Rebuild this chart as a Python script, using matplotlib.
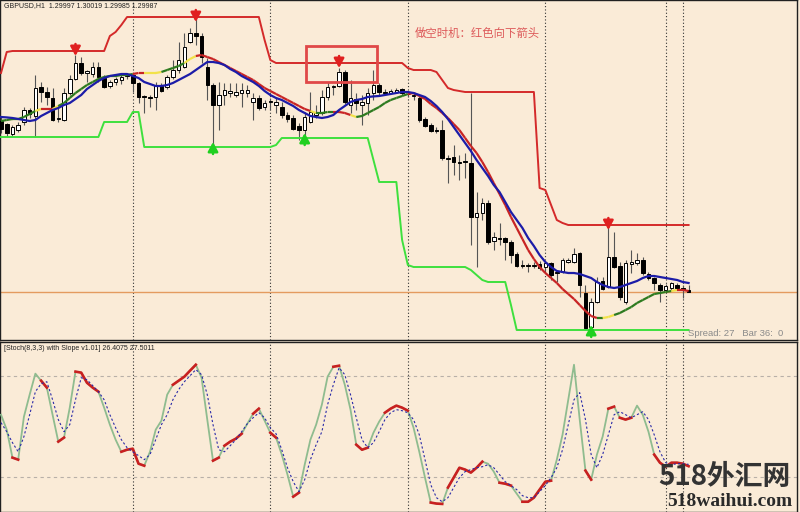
import numpy as np
import matplotlib.pyplot as plt
from matplotlib.collections import LineCollection
from matplotlib.patches import Rectangle

# GBPUSD H1, 121 bars, oldest -> newest
opens = [1.30840, 1.30825, 1.30775, 1.30795, 1.30835, 1.30895, 1.30865, 1.31010, 1.30985, 1.30955,
         1.30850, 1.30845, 1.30980, 1.31050, 1.31130, 1.31080, 1.31075, 1.31110, 1.31055, 1.31015,
         1.31035, 1.31045, 1.31065, 1.31070, 1.31030, 1.30965, 1.30960, 1.30960, 1.31015, 1.31010,
         1.31060, 1.31095, 1.31110, 1.31235, 1.31280, 1.31265, 1.31110, 1.31020, 1.30920, 1.30970,
         1.30980, 1.30970, 1.30980, 1.30980, 1.30935, 1.30955, 1.30910, 1.30935, 1.30920, 1.30910,
         1.30870, 1.30855, 1.30815, 1.30795, 1.30835, 1.30870, 1.30880, 1.30960, 1.31010, 1.31015,
         1.31085, 1.30920, 1.30950, 1.30920, 1.30930, 1.30980, 1.31020, 1.30985, 1.30980, 1.30985,
         1.31000, 1.30975, 1.30965, 1.30955, 1.30850, 1.30820, 1.30795, 1.30795, 1.30655, 1.30660,
         1.30635, 1.30640, 1.30630, 1.30360, 1.30380, 1.30430, 1.30240, 1.30255, 1.30255, 1.30235,
         1.30175, 1.30120, 1.30120, 1.30115, 1.30125, 1.30110, 1.30130, 1.30080, 1.30085, 1.30135,
         1.30135, 1.30180, 1.29980, 1.29810, 1.29935, 1.30040, 1.30010, 1.30160, 1.30115, 1.29935,
         1.30125, 1.30130, 1.30145, 1.30075, 1.30055, 1.30020, 1.29995, 1.30005, 1.30020, 1.30005,
         1.29997]
highs = [1.30860, 1.30830, 1.30820, 1.30835, 1.30910, 1.30905, 1.31070, 1.31035, 1.31010, 1.31005,
         1.30920, 1.31005, 1.31070, 1.31170, 1.31160, 1.31095, 1.31135, 1.31135, 1.31070, 1.31045,
         1.31060, 1.31070, 1.31080, 1.31080, 1.31035, 1.30970, 1.30970, 1.31035, 1.31030, 1.31070,
         1.31145, 1.31235, 1.31280, 1.31305, 1.31355, 1.31280, 1.31155, 1.31030, 1.31035, 1.31030,
         1.31030, 1.31030, 1.31030, 1.31020, 1.30980, 1.30970, 1.30945, 1.30955, 1.30960, 1.30935,
         1.30885, 1.30870, 1.30830, 1.30885, 1.30985, 1.30920, 1.30995, 1.31035, 1.31020, 1.31105,
         1.31095, 1.31045, 1.30980, 1.30970, 1.31005, 1.31095, 1.31030, 1.31000, 1.31000, 1.31005,
         1.31005, 1.30985, 1.30980, 1.30965, 1.30860, 1.30830, 1.30810, 1.30845, 1.30670, 1.30720,
         1.30670, 1.30680, 1.30980, 1.30485, 1.30455, 1.30445, 1.30285, 1.30330, 1.30260, 1.30245,
         1.30185, 1.30145, 1.30130, 1.30135, 1.30140, 1.30135, 1.30135, 1.30095, 1.30155, 1.30155,
         1.30205, 1.30185, 1.30020, 1.29955, 1.30060, 1.30060, 1.30310, 1.30285, 1.30135, 1.30145,
         1.30195, 1.30180, 1.30160, 1.30085, 1.30060, 1.30030, 1.30025, 1.30035, 1.30030, 1.30020,
         1.30019]
lows = [1.30780, 1.30760, 1.30760, 1.30785, 1.30820, 1.30855, 1.30760, 1.30935, 1.30920, 1.30840,
        1.30835, 1.30840, 1.30970, 1.31045, 1.31070, 1.31035, 1.31060, 1.31035, 1.31005, 1.31005,
        1.31020, 1.31025, 1.31050, 1.30985, 1.30930, 1.30880, 1.30910, 1.30895, 1.30985, 1.31000,
        1.31050, 1.31080, 1.31105, 1.31230, 1.31220, 1.31130, 1.30945, 1.30720, 1.30795, 1.30920,
        1.30960, 1.30960, 1.30910, 1.30960, 1.30845, 1.30895, 1.30895, 1.30895, 1.30880, 1.30855,
        1.30835, 1.30795, 1.30745, 1.30755, 1.30830, 1.30855, 1.30870, 1.30945, 1.30970, 1.31010,
        1.30925, 1.30880, 1.30895, 1.30820, 1.30870, 1.30945, 1.30965, 1.30970, 1.30975, 1.30980,
        1.30970, 1.30960, 1.30945, 1.30835, 1.30810, 1.30785, 1.30780, 1.30645, 1.30530, 1.30570,
        1.30545, 1.30555, 1.30220, 1.30110, 1.30345, 1.30225, 1.30195, 1.30220, 1.30145, 1.30130,
        1.30110, 1.30105, 1.30085, 1.30105, 1.30095, 1.30080, 1.30045, 1.30035, 1.30080, 1.30130,
        1.30130, 1.29960, 1.29795, 1.29805, 1.29930, 1.29995, 1.30005, 1.30105, 1.29945, 1.29925,
        1.30080, 1.30120, 1.30070, 1.30045, 1.29995, 1.29935, 1.29980, 1.29995, 1.29995, 1.29955,
        1.29985]
closes = [1.30800, 1.30780, 1.30810, 1.30820, 1.30895, 1.30875, 1.31005, 1.30985, 1.30960, 1.30845,
          1.30855, 1.30980, 1.31050, 1.31130, 1.31080, 1.31090, 1.31110, 1.31060, 1.31010, 1.31035,
          1.31050, 1.31060, 1.31070, 1.31030, 1.30960, 1.30960, 1.30955, 1.31020, 1.30990, 1.31060,
          1.31095, 1.31145, 1.31210, 1.31280, 1.31265, 1.31160, 1.31020, 1.30920, 1.30970, 1.30995,
          1.30990, 1.30985, 1.30995, 1.30995, 1.30955, 1.30905, 1.30930, 1.30940, 1.30935, 1.30870,
          1.30850, 1.30800, 1.30795, 1.30860, 1.30885, 1.30880, 1.30960, 1.31010, 1.31015, 1.31085,
          1.30935, 1.30955, 1.30930, 1.30935, 1.30980, 1.31020, 1.30985, 1.30980, 1.30990, 1.30995,
          1.30980, 1.30975, 1.30970, 1.30845, 1.30815, 1.30790, 1.30790, 1.30655, 1.30650, 1.30635,
          1.30630, 1.30635, 1.30360, 1.30380, 1.30430, 1.30235, 1.30260, 1.30250, 1.30235, 1.30170,
          1.30115, 1.30115, 1.30115, 1.30120, 1.30105, 1.30130, 1.30070, 1.30085, 1.30145, 1.30145,
          1.30175, 1.30020, 1.29805, 1.29935, 1.30035, 1.30000, 1.30160, 1.30110, 1.29960, 1.30130,
          1.30135, 1.30145, 1.30080, 1.30055, 1.30030, 1.29995, 1.30015, 1.30030, 1.30005, 1.29995,
          1.29987]

# blue moving average
ma_blue = [1.30860, 1.30858, 1.30855, 1.30850, 1.30845, 1.30840, 1.30845, 1.30865, 1.30880, 1.30895,
           1.30905, 1.30920, 1.30930, 1.30950, 1.30970, 1.31000, 1.31020, 1.31040, 1.31055, 1.31065,
           1.31070, 1.31075, 1.31075, 1.31065, 1.31055, 1.31035, 1.31025, 1.31015, 1.31015, 1.31020,
           1.31030, 1.31045, 1.31060, 1.31075, 1.31095, 1.31115, 1.31135, 1.31135, 1.31130, 1.31120,
           1.31100, 1.31085, 1.31065, 1.31050, 1.31035, 1.31015, 1.30990, 1.30970, 1.30955, 1.30945,
           1.30930, 1.30915, 1.30895, 1.30880, 1.30865, 1.30860, 1.30855, 1.30860, 1.30870, 1.30895,
           1.30915, 1.30935, 1.30945, 1.30950, 1.30960, 1.30963, 1.30965, 1.30970, 1.30975, 1.30980,
           1.30985, 1.30985, 1.30980, 1.30970, 1.30960, 1.30940, 1.30915, 1.30885, 1.30850, 1.30810,
           1.30770, 1.30730, 1.30690, 1.30645, 1.30605, 1.30565, 1.30520, 1.30485, 1.30435, 1.30385,
           1.30345, 1.30305, 1.30255, 1.30215, 1.30170, 1.30135, 1.30110, 1.30090, 1.30085, 1.30080,
           1.30080, 1.30075, 1.30065, 1.30055, 1.30035, 1.30020, 1.30010, 1.30005, 1.30010, 1.30020,
           1.30030, 1.30040, 1.30055, 1.30065, 1.30065, 1.30060, 1.30055, 1.30050, 1.30045, 1.30035,
           1.30030]

# slope-coloured average (g = up, y = flat, r = down)
ma_slope = [1.30840, 1.30845, 1.30850, 1.30850, 1.30860, 1.30875, 1.30890, 1.30900, 1.30900, 1.30900,
            1.30915, 1.30930, 1.30955, 1.30980, 1.31000, 1.31020, 1.31035, 1.31050, 1.31060, 1.31065,
            1.31065, 1.31070, 1.31070, 1.31075, 1.31080, 1.31080, 1.31080, 1.31080, 1.31085, 1.31095,
            1.31105, 1.31115, 1.31130, 1.31150, 1.31165, 1.31170, 1.31160, 1.31150, 1.31135, 1.31120,
            1.31105, 1.31090, 1.31075, 1.31060, 1.31045, 1.31025, 1.31005, 1.30990, 1.30975, 1.30960,
            1.30945, 1.30930, 1.30915, 1.30900, 1.30890, 1.30880, 1.30880, 1.30885, 1.30885, 1.30885,
            1.30880, 1.30870, 1.30860, 1.30865, 1.30880, 1.30895, 1.30910, 1.30930, 1.30945, 1.30955,
            1.30965, 1.30975, 1.30980, 1.30965, 1.30950, 1.30925, 1.30905, 1.30880, 1.30855, 1.30825,
            1.30795, 1.30755, 1.30715, 1.30680, 1.30635, 1.30585, 1.30530, 1.30475, 1.30420, 1.30360,
            1.30305, 1.30250, 1.30195, 1.30150, 1.30110, 1.30080, 1.30055, 1.30030, 1.30000, 1.29975,
            1.29950, 1.29920, 1.29890, 1.29865, 1.29855, 1.29855, 1.29860, 1.29870, 1.29880, 1.29895,
            1.29910, 1.29930, 1.29945, 1.29960, 1.29975, 1.29980, 1.29985, 1.29990, 1.29995, 1.29995,
            1.29990]
slope_state = ("gggggggyrry" "ggggggggggggg" "rryyygggg" "yy" "rrrrrrrrrrrrrrrrrrrr"
               "ygggrrry" "ggggggggg" "rrrrrrrrrrrrrrrrrrrrrrrrrrrrrrrrr" "gyy" "gggggggggg" "yrr")

# channel stop levels
upper = ([1.31080, 1.31185] + [1.31190] * 17 + [1.31265, 1.31285, 1.31320] + [1.31360] * 24
         + [1.31245, 1.31145] + [1.31130] * 23 + [1.31105] + [1.31095] * 4
         + [1.31085, 1.31045, 1.31005, 1.30995, 1.30990] + [1.30985] * 13
         + [1.30505, 1.30495, 1.30420, 1.30345, 1.30330] + [1.30320] * 22)
lower = ([1.30760] * 18 + [1.30835] * 5 + [1.30885] * 2 + [1.30710] * 23 + [1.30720]
         + [1.30755] * 16 + [1.30645] + [1.30535] * 4 + [1.30245, 1.30120] + [1.30110] * 10
         + [1.30095, 1.30070, 1.30045] + [1.30035] * 4 + [1.29920] + [1.29795] * 31)
sell_arrows = [13, 34, 59, 106]
buy_arrows = [37, 53, 103]
day_breaks = [23, 47, 71, 95, 116, 119]

# stochastic 8,3,3
stoch_k = [57.0, 48.1, 31.5, 30.3, 55.8, 68.9, 81.4, 77.2, 73.1, 57.0,
           41.0, 43.4, 61.2, 82.6, 82.0, 76.0, 73.1, 70.7, 61.2, 51.1,
           42.2, 35.0, 36.2, 36.8, 27.9, 26.7, 35.0, 48.1, 53.5, 68.9,
           74.8, 77.2, 79.6, 83.2, 86.7, 79.0, 54.1, 29.7, 31.5, 38.6,
           41.0, 42.8, 45.7, 51.7, 57.6, 60.6, 53.5, 46.3, 43.4, 33.3,
           21.4, 8.3, 10.7, 27.3, 42.2, 51.1, 63.0, 79.6, 85.5, 86.1,
           74.8, 60.0, 39.2, 36.2, 37.4, 46.3, 52.9, 58.2, 60.6, 62.4,
           61.2, 59.4, 49.3, 35.0, 19.6, 4.8, 4.2, 4.0, 13.7, 19.6,
           25.5, 24.4, 22.6, 25.5, 29.1, 27.9, 23.2, 16.6, 16.0, 14.9,
           10.1, 5.3, 5.3, 7.7, 12.5, 17.2, 17.8, 30.3, 45.1, 65.9,
           86.7, 54.1, 23.8, 18.4, 33.3, 44.0, 60.6, 61.8, 55.2, 54.1,
           55.2, 62.4, 57.0, 46.9, 33.3, 28.5, 26.1, 28.5, 28.5, 27.9,
           26.4075]
stoch_d = [52.3, 46.9, 40.4, 35.0, 44.0, 57.0, 70.7, 75.4, 76.6, 65.9,
           54.1, 46.9, 51.1, 65.9, 79.0, 77.8, 74.3, 70.7, 65.9, 57.0,
           49.3, 42.2, 37.4, 35.0, 32.7, 30.3, 33.3, 42.2, 51.1, 57.0,
           65.9, 71.9, 76.6, 80.2, 83.8, 80.8, 68.9, 51.1, 36.2, 35.0,
           38.6, 42.2, 46.9, 51.7, 55.2, 58.2, 55.2, 49.3, 45.7, 36.2,
           25.5, 17.2, 11.3, 18.4, 30.3, 39.2, 46.9, 63.0, 74.8, 84.9,
           80.8, 68.9, 55.2, 42.2, 37.4, 40.4, 46.9, 54.1, 58.2, 60.0,
           59.4, 58.2, 54.1, 45.1, 30.3, 15.4, 7.7, 5.3, 7.7, 13.7,
           19.6, 23.2, 24.4, 25.5, 26.1, 27.3, 25.5, 21.4, 17.2, 14.9,
           12.5, 8.9, 7.7, 7.7, 11.3, 14.9, 19.6, 25.5, 36.2, 51.1,
           65.9, 70.1, 54.1, 33.3, 25.5, 33.3, 45.1, 57.0, 58.8, 57.0,
           55.2, 57.0, 58.8, 54.1, 45.1, 35.0, 28.5, 27.3, 27.9, 27.9,
           27.5011]
# bar spans where the main line is drawn red (flat slope)
k_red_spans = [(2, 3), (7, 8), (10, 11), (13, 17), (21, 25), (30, 34), (37, 38), (39, 42),
               (44, 45), (47, 48), (51, 52), (58, 59), (62, 64), (67, 71), (75, 77), (78, 84),
               (87, 89), (91, 96), (102, 103), (106, 107), (108, 110), (114, 120)]
stoch_levels = [20, 80]

# annotation box around the third sell signal
box_bars = (53.2, 65.6)
box_prices = (1.31035, 1.31215)

bg = '#FAEBD7'
x = np.arange(len(opens))
o, h, l, c = map(np.array, (opens, highs, lows, closes))

fig = plt.figure(figsize=(8, 5.12), dpi=100, facecolor=bg)
ax = fig.add_axes([0, 172 / 512, 797 / 800, 340 / 512], facecolor=bg)
ax2 = fig.add_axes([0, 0, 797 / 800, 170 / 512], facecolor=bg)
xlim = (-0.175, 138.92)
for a in (ax, ax2):
    a.set_xlim(*xlim)
    a.set_xticks([])
    a.set_yticks([])
    for s in a.spines.values():
        s.set_color('#202020')
        s.set_linewidth(1.0)
    for b in day_breaks:
        a.axvline(b, color='#303030', lw=0.8, ls=(0, (1, 2)), zorder=1)
ax.set_ylim(1.29745, 1.31445)
ax2.set_ylim(-0.8, 100.2)

# bid line
ax.axhline(c[-1], color='#E49B5F', lw=1.0, zorder=1)

# candles
ax.vlines(x, l, h, color='#555555', lw=0.8, zorder=2)
up = c >= o
ax.bar(x[up], c[up] - o[up], bottom=o[up], width=0.62, color='white',
       edgecolor='black', linewidth=0.7, zorder=3)
ax.bar(x[~up], o[~up] - c[~up], bottom=c[~up], width=0.62, color='black',
       edgecolor='black', linewidth=0.7, zorder=3)

# stop channel
ax.plot(x, upper, color='#D42A2A', lw=1.4, zorder=4)
ax.plot(x, lower, color='#3EE03E', lw=1.4, zorder=4)
astyle = '-|>,head_length=0.55,head_width=0.3'
for i in sell_arrows:
    ax.annotate('', xy=(i, upper[i] - 0.00025), xytext=(i, upper[i] + 0.00035),
                arrowprops=dict(arrowstyle=astyle, color='#E02020', lw=1.8,
                                shrinkA=0, shrinkB=0), zorder=6)
for i in buy_arrows:
    ax.annotate('', xy=(i, lower[i] + 0.00025), xytext=(i, lower[i] - 0.00035),
                arrowprops=dict(arrowstyle=astyle, color='#20D020', lw=1.8,
                                shrinkA=0, shrinkB=0), zorder=6)

# averages
cmap = {'g': '#2D7A1F', 'y': '#F2E24A', 'r': '#C82424'}
segs = [[(i - 1, ma_slope[i - 1]), (i, ma_slope[i])] for i in range(1, len(ma_slope))]
ax.add_collection(LineCollection(segs, colors=[cmap[s] for s in slope_state[1:]],
                                 linewidths=1.6, zorder=5))
ax.plot(x, ma_blue, color='#1C1CA8', lw=1.6, zorder=5)

ax.add_patch(Rectangle((box_bars[0], box_prices[0]), box_bars[1] - box_bars[0],
                       box_prices[1] - box_prices[0], fill=False,
                       edgecolor='#E04848', lw=2, zorder=7))

# stochastic panel
for lv in stoch_levels:
    ax2.axhline(lv, color='#B8B0A8', lw=0.8, ls=(0, (3, 3)), zorder=1)
ax2.plot(x, stoch_k, color='#8FBC8F', lw=1.3, zorder=3)
for a0, a1 in k_red_spans:
    ax2.plot(x[a0:a1 + 1], stoch_k[a0:a1 + 1], color='#C82020', lw=1.9, zorder=4)
ax2.plot(x, stoch_d, color='#2A2AA8', lw=0.8, ls=(0, (2, 2)), zorder=5)

# texts
small = dict(fontsize=5.0, va='center', ha='left', color='#202020', family=['Liberation Sans'])
fig.text(4 / 800, 1 - 6 / 512, 'GBPUSD,H1  1.29997 1.30019 1.29985 1.29987', **small)
fig.text(4 / 800, 1 - 349 / 512, '[Stoch(8,3,3) with Slope v1.01] 26.4075 27.5011', **small)
fig.text(415 / 800, 1 - 33 / 512, '做空时机：红色向下箭头', fontsize=8.2, color='#DD5A5A',
         va='center', ha='left', family=['Noto Sans CJK SC', 'DejaVu Sans'])
fig.text(688 / 800, 1 - 333 / 512, 'Spread: 27   Bar 36:  0', fontsize=6.8,
         color='#8A8A8A', va='center', ha='left', family=['Liberation Sans'])
fig.text(724 / 800, 1 - 477 / 512, '518外汇网', fontsize=20, color='#333333',
         va='center', ha='center', style='italic', weight='bold',
         family=['Noto Sans CJK SC', 'DejaVu Sans'])
fig.text(730 / 800, 1 - 501 / 512, '518waihui.com', fontsize=14, color='#2A2A2A',
         va='center', ha='center', weight='bold', family=['Liberation Serif'])

fig.savefig('out.png', dpi=100, facecolor=bg)
